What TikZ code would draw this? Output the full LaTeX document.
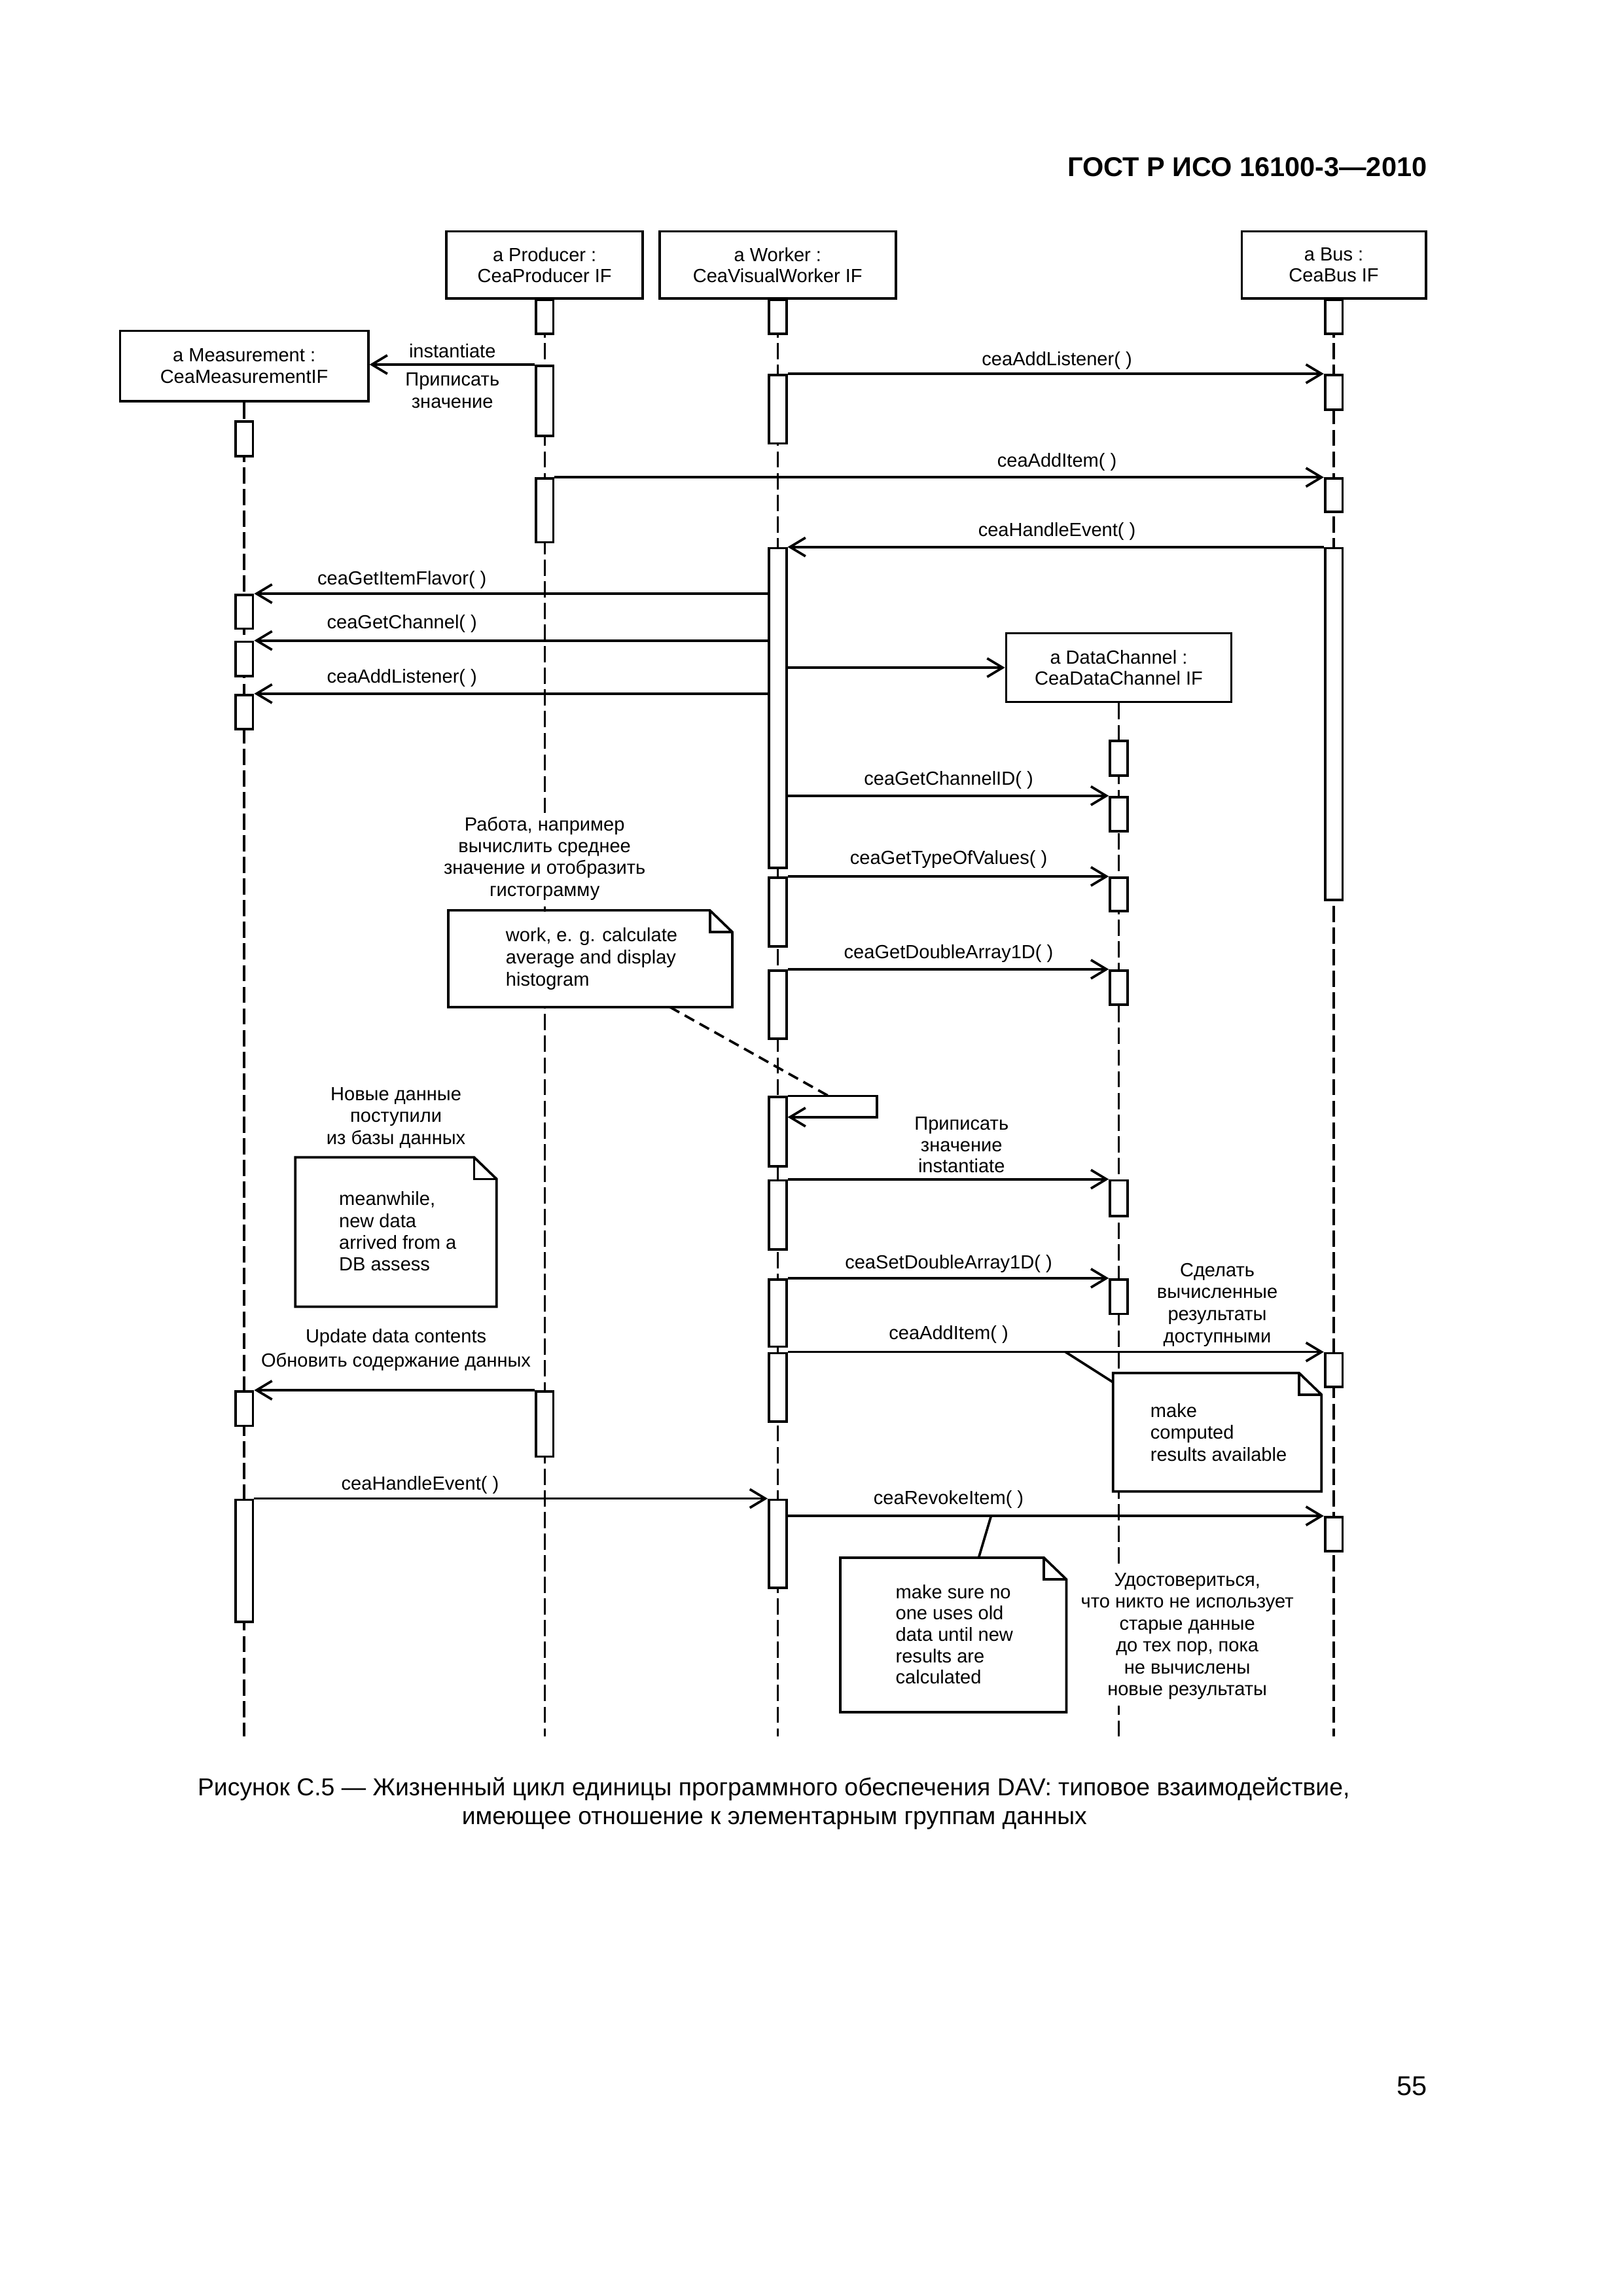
\documentclass[tikz,border=0pt]{standalone}
\usepackage{fontspec}
\setmainfont{Liberation Sans}
\usetikzlibrary{arrows.meta}
\newcommand\pxu{0.18943mm}
\newcommand\txtlines[6]{\foreach \lntxt [count=\i] in {#6} {\node[lbl,anchor=#2] (#1-\i) at (#3,{#4+(\i-1)*#5}) {\lntxt};}}
\newcommand\act[4]{\node[actbox, anchor=north, minimum height={(#4-#3)*0.18943mm}] (#1) at (#2,#3) {};}
\newcommand\notebox[5]{%
  \node[notebg, minimum width={#4*0.18943mm}, minimum height={#5*0.18943mm}] (#1) at (#2,#3) {};
  \draw (#1.north west) -- ([xshift=-2.9mm]#1.north east) -- ([yshift=-2.8mm]#1.north east) -- (#1.south east) -- (#1.south west) -- cycle;
  \draw ([xshift=-2.9mm]#1.north east) |- ([yshift=-2.8mm]#1.north east);}
\begin{document}
\begin{tikzpicture}[x=0.18943mm, y=-0.18943mm, line width=0.9pt,
  lbl/.style={font=\fontsize{7}{8.1}\selectfont, inner sep=0pt},
  whitebg/.style={fill=white, draw=none, inner sep=0pt},
  headbox/.style={draw, fill=white, align=center, font=\fontsize{7}{7.8}\selectfont, inner sep=0pt},
  actbox/.style={draw, fill=white, minimum width={12*0.18943mm}, inner sep=0pt},
  lifeline/.style={line width=0.8pt, dash pattern=on 2.1mm off 0.7mm},
  msg/.style={-{Straight Barb[length=2mm,width=2.4mm]}},
  notebg/.style={fill=white, draw=none, inner sep=0pt},
  dashlink/.style={dash pattern=on 1.4mm off 0.8mm},
  captxt/.style={font=\fontsize{9}{11}\selectfont, inner sep=0pt},
]
\useasboundingbox (0,0) rectangle (1108.6,1568.2);

% header
\node[captxt, font=\bfseries\fontsize{10}{12}\selectfont, anchor=base east] (hdr) at (975.5,120.7) {ГОСТ Р ИСО 16100-3—2010};

% heads
\node[headbox, minimum width={169.5*\pxu}, minimum height={48*\pxu}] (mbox) at (166.8,250) {a Measurement :\\CeaMeasurementIF};
\node[headbox, minimum width={134*\pxu}, minimum height={46*\pxu}] (pbox) at (372,181) {a Producer :\\CeaProducer IF};
\node[headbox, minimum width={161.5*\pxu}, minimum height={46*\pxu}] (wbox) at (531.2,181) {a Worker :\\CeaVisualWorker IF};
\node[headbox, minimum width={125.7*\pxu}, minimum height={46*\pxu}] (bbox) at (911.1,181) {a Bus :\\CeaBus IF};
\node[headbox, minimum width={153.8*\pxu}, minimum height={47*\pxu}] (dbox) at (764.2,456) {a DataChannel :\\CeaDataChannel IF};

% lifelines
\coordinate (mend) at (166.8,1186);
\coordinate (pend) at (372,1186);
\coordinate (wend) at (531.2,1186);
\coordinate (dend) at (764.2,1186);
\coordinate (bend) at (911.1,1186);
\draw[lifeline] (mbox.south) -- (mend);
\draw[lifeline] (pbox.south) -- (pend);
\draw[lifeline] (wbox.south) -- (wend);
\draw[lifeline] (dbox.south) -- (dend);
\draw[lifeline] (bbox.south) -- (bend);

% activations
\act{p1}{372}{204}{227}
\act{p2}{372}{249}{297}
\act{p3}{372}{326}{369.5}
\act{p4}{372}{949.5}{994}
\act{w1}{531.2}{204}{227}
\act{w2}{531.2}{255.3}{302}
\act{w3}{531.2}{373.6}{592}
\act{w4}{531.2}{598.6}{645.7}
\act{w5}{531.2}{662}{708.6}
\act{w6}{531.2}{748.5}{795.7}
\act{w7}{531.2}{805.4}{852.7}
\act{w8}{531.2}{873}{918.9}
\act{w9}{531.2}{923.4}{970}
\act{w10}{531.2}{1023.5}{1083.5}
\act{b1}{911.1}{204}{227}
\act{b2}{911.1}{255.3}{279}
\act{b3}{911.1}{326}{348.8}
\act{b4}{911.1}{373.6}{613.8}
\act{b5}{911.1}{923.4}{946.5}
\act{b6}{911.1}{1035.4}{1058.6}
\act{m1}{166.8}{287}{310.6}
\act{m2}{166.8}{405.5}{428.6}
\act{m3}{166.8}{437.5}{460.9}
\act{m4}{166.8}{473.8}{497}
\act{m5}{166.8}{949.5}{973}
\act{m6}{166.8}{1023.5}{1107}
\act{d1}{764.2}{505.2}{529}
\act{d2}{764.2}{543.5}{567}
\act{d3}{764.2}{598.6}{621.5}
\act{d4}{764.2}{662}{685.5}
\act{d5}{764.2}{805.4}{829.6}
\act{d6}{764.2}{873}{896.6}

% messages
\draw[msg] (p2.north west) -- (p2.north west -| mbox.east);
\draw[msg] (w2.north east) -- (b2.north west);
\draw[msg] (p3.north east) -- (b3.north west);
\draw[msg] (b4.north west) -- (w3.north east);
\draw[msg] (w3.west |- m2.north) -- (m2.north east);
\draw[msg] (w3.west |- m3.north) -- (m3.north east);
\draw[msg] (w3.west |- m4.north) -- (m4.north east);
\draw[msg] (w3.east |- dbox.west) -- (dbox.west);
\draw[msg] (w3.east |- d2.north) -- (d2.north west);
\draw[msg] (w4.north east) -- (d3.north west);
\draw[msg] (w5.north east) -- (d4.north west);
\coordinate (selfc) at (599,763);
\draw[msg] (w6.north east) -| (selfc) -- (w6.east |- selfc);
\draw[msg] (w7.north east) -- (d5.north west);
\draw[msg] (w8.north east) -- (d6.north west);
\draw[msg] (w9.north east) -- (b5.north west);
\draw[msg] (p4.north west) -- (m5.north east);
\draw[msg] (m6.north east) -- (w10.north west);
\draw[msg] (w10.east |- b6.north) -- (b6.north west);

% message labels
\node[lbl, anchor=base] (l-inst) at (309,244.4) {instantiate};
\txtlines{l-prip}{base}{309}{263.7}{14.9}{Приписать,значение}
\node[lbl, anchor=base] (l-al1) at (722,249.6) {ceaAddListener( )};
\node[lbl, anchor=base] (l-ai1) at (722,318.8) {ceaAddItem( )};
\node[lbl, anchor=base] (l-he1) at (722,366.3) {ceaHandleEvent( )};
\node[lbl, anchor=base] (l-gif) at (274.6,399.3) {ceaGetItemFlavor( )};
\node[lbl, anchor=base] (l-gc) at (274.6,429.2) {ceaGetChannel( )};
\node[lbl, anchor=base] (l-al2) at (274.6,466.4) {ceaAddListener( )};
\node[lbl, anchor=base] (l-gci) at (648,536.1) {ceaGetChannelID( )};
\node[lbl, anchor=base] (l-gtv) at (648,590.1) {ceaGetTypeOfValues( )};
\node[lbl, anchor=base] (l-gda) at (648,654.9) {ceaGetDoubleArray1D( )};
\txtlines{l-prip2}{base}{656.8}{771.9}{14.5}{Приписать,значение,instantiate}
\node[lbl, anchor=base] (l-sda) at (648,866.5) {ceaSetDoubleArray1D( )};
\node[lbl, anchor=base] (l-ai2) at (648,914.9) {ceaAddItem( )};
\node[lbl, anchor=base] (l-upd1) at (270.5,917.2) {Update data contents};
\node[lbl, anchor=base] (l-upd2) at (270.5,933.6) {Обновить содержание данных};
\node[lbl, anchor=base] (l-he2) at (287,1017.8) {ceaHandleEvent( )};
\node[lbl, anchor=base] (l-ri) at (648,1027.3) {ceaRevokeItem( )};

% free comments (white ground hides the lifelines behind them)
\node[whitebg, minimum width={146*\pxu}, minimum height={64*\pxu}] (l-work-bg) at (372,587) {};
\txtlines{l-work}{base}{372}{567.4}{14.9}{{Работа, например},{вычислить среднее},{значение и отобразить},гистограмму}
\txtlines{l-new}{base}{270.5}{751.7}{14.9}{{Новые данные},поступили,{из базы данных}}
\txtlines{l-make}{base}{831.5}{871.8}{15.1}{Сделать,вычисленные,результаты,доступными}
\node[whitebg, minimum width={152*\pxu}, minimum height={94*\pxu}] (l-sure-bg) at (811,1118) {};
\txtlines{l-sure}{base}{811}{1083.2}{15}{{Удостовериться,},{что никто не использует},{старые данные},{до тех пор, пока},{не вычислены},{новые результаты}}

% notes
\notebox{n1}{403.2}{654.8}{192.3}{64.4}
\txtlines{n1t}{base west}{344.7}{643}{15.3}{{work, e. g. calculate},{average and display},histogram}
\notebox{n2}{270.5}{841.5}{135.8}{100.3}
\txtlines{n2t}{base west}{230.8}{823.3}{14.9}{{meanwhile,},{new data},{arrived from a},{DB assess}}
\notebox{n3}{831.5}{978.2}{140.7}{79.2}
\txtlines{n3t}{base west}{785}{968}{15}{make,computed,{results available}}
\notebox{n4}{651.2}{1116.7}{152.8}{103.8}
\txtlines{n4t}{base west}{611}{1091.8}{14.6}{{make sure no},{one uses old},{data until new},{results are},calculated}

% note connectors
\draw[dashlink] ([xshift=10.3mm]n1.south) -- ([xshift=5.27mm]w6.north east);
\draw ([xshift=35.95mm]w9.north east) -- ([yshift=-1.2mm]n3.north west);
\coordinate (ric) at (677,1035.4);
\draw (ric) -- ([xshift=3.28mm]n4.north);

% caption
\node[captxt, anchor=base] (cap1) at (528.5,1226.3) {Рисунок С.5 — Жизненный цикл единицы программного обеспечения DAV: типовое взаимодействие,};
\node[captxt, anchor=base] (cap2) at (529,1246) {имеющее отношение к элементарным группам данных};
\node[captxt, font=\fontsize{10}{12}\selectfont, anchor=base east] (pnum) at (975.5,1431) {55};
\end{tikzpicture}
\end{document}
